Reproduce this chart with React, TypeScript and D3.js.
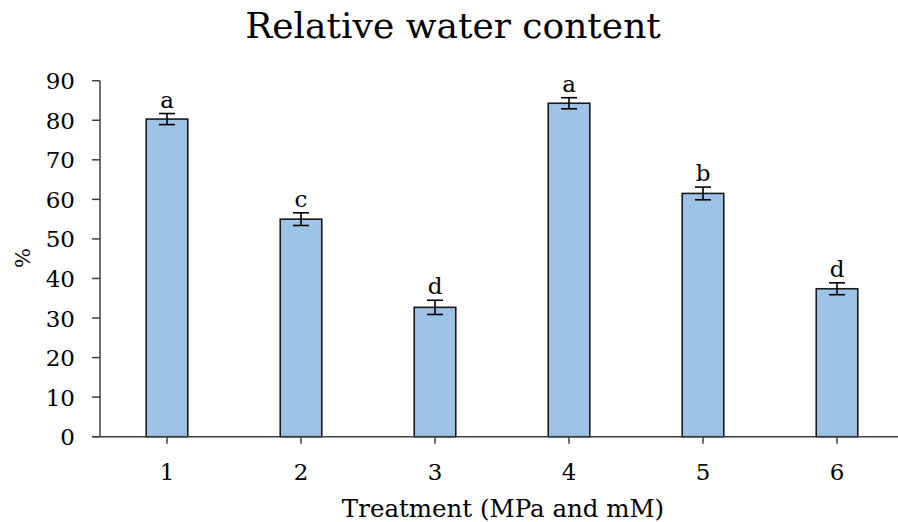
import React from "react";
import * as d3 from "d3";

const categories = ["1", "2", "3", "4", "5", "6"];
const values = [80.3, 55.0, 32.7, 84.3, 61.5, 37.4];
const errors = [1.4, 1.6, 1.8, 1.4, 1.6, 1.5];
const letters = ["a", "c", "d", "a", "b", "d"];
const yTicks = [0, 10, 20, 30, 40, 50, 60, 70, 80, 90];

const W = 898;
const H = 522;
const FONT = "'DejaVu Serif', serif";

export default function App() {
  const x = d3.scaleBand<string>().domain(categories).range([100, 904]).padding(0);
  const y = d3.scaleLinear().domain([0, 90]).range([436.7, 80.7]);
  const bw = x.bandwidth() * 0.31;
  const axisColor = "#404040";

  return (
    <svg width={W} height={H} style={{ position: "absolute", left: 0, top: 0, background: "#fff" }}>
      <rect width={W} height={H} fill="#fff" />
      <text x={453} y={38} textAnchor="middle" fontFamily={FONT} fontSize={36} fill="#000">
        Relative water content
      </text>

      {/* bars */}
      {categories.map((c, i) => {
        const cx = (x(c) as number) + x.bandwidth() / 2;
        return (
          <g key={c}>
            <rect
              x={cx - bw / 2}
              y={y(values[i])}
              width={bw}
              height={y(0) - y(values[i])}
              fill="#9dc3e6"
              stroke="#1a1a1a"
              strokeWidth={1.6}
            />
            <line x1={cx} x2={cx} y1={y(values[i] + errors[i])} y2={y(values[i] - errors[i])} stroke="#000" strokeWidth={1.6} />
            <line x1={cx - 8} x2={cx + 8} y1={y(values[i] + errors[i])} y2={y(values[i] + errors[i])} stroke="#000" strokeWidth={1.6} />
            <line x1={cx - 8} x2={cx + 8} y1={y(values[i] - errors[i])} y2={y(values[i] - errors[i])} stroke="#000" strokeWidth={1.6} />
            <text x={cx} y={y(values[i] + errors[i]) - 6} textAnchor="middle" fontFamily={FONT} fontSize={23} fill="#000">
              {letters[i]}
            </text>
          </g>
        );
      })}

      {/* y axis */}
      <line x1={100} x2={100} y1={y(90)} y2={y(0)} stroke={axisColor} strokeWidth={1.5} />
      {yTicks.map((t) => (
        <g key={t}>
          <line x1={92} x2={100} y1={y(t)} y2={y(t)} stroke={axisColor} strokeWidth={1.5} />
          <text x={75} y={y(t) + 8.5} textAnchor="end" fontFamily={FONT} fontSize={23} fill="#000">
            {t}
          </text>
        </g>
      ))}

      {/* x axis */}
      <line x1={92} x2={W} y1={y(0)} y2={y(0)} stroke={axisColor} strokeWidth={1.5} />
      {categories.map((c) => {
        const cx = (x(c) as number) + x.bandwidth() / 2;
        return (
          <g key={c}>
            <line x1={cx} x2={cx} y1={y(0)} y2={y(0) + 7} stroke={axisColor} strokeWidth={1.5} />
            <text x={cx} y={480} textAnchor="middle" fontFamily={FONT} fontSize={23} fill="#000">
              {c}
            </text>
          </g>
        );
      })}

      <text x={503} y={517} textAnchor="middle" fontFamily={FONT} fontSize={24.5} fill="#000">
        Treatment (MPa and mM)
      </text>
      <text
        transform={`translate(30, 258) rotate(-90)`}
        textAnchor="middle"
        fontFamily={FONT}
        fontSize={21}
        fill="#000"
      >
        %
      </text>
    </svg>
  );
}
